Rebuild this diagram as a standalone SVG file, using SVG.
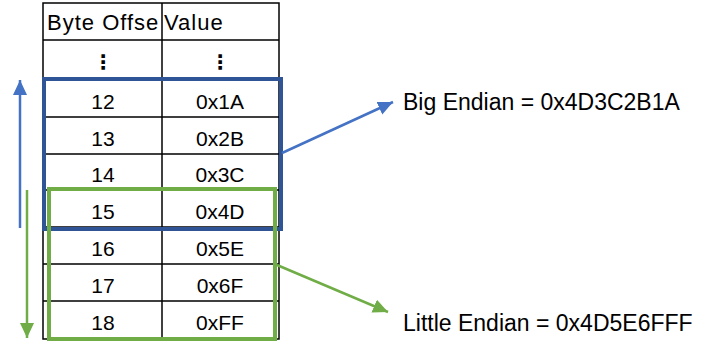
<svg xmlns="http://www.w3.org/2000/svg" width="703" height="344" viewBox="0 0 703 344">
<style>
.t{font-family:"Liberation Sans",Arial,sans-serif;font-size:21px;fill:#000}
.h{font-family:"Liberation Sans",Arial,sans-serif;font-size:22px;letter-spacing:1px;fill:#000}
.c{text-anchor:middle}
.lbl{font-family:"Liberation Sans",Arial,sans-serif;font-size:23px;fill:#000}
.dots{font-family:"DejaVu Sans",sans-serif;font-size:20px;font-weight:bold;text-anchor:middle;fill:#000}
.grid{stroke:#000;stroke-width:1.5;fill:none}
</style>
<defs>
<marker id="ab" markerUnits="userSpaceOnUse" markerWidth="16" markerHeight="14" refX="15" refY="7" orient="auto"><path d="M0,0 L15,7 L0,14 z" fill="#4472C4"/></marker>
<marker id="ag" markerUnits="userSpaceOnUse" markerWidth="16" markerHeight="14" refX="15" refY="7" orient="auto"><path d="M0,0 L15,7 L0,14 z" fill="#70AD47"/></marker>
</defs>
<rect width="703" height="344" fill="#fff"/>
<g id="table">
<rect class="grid" x="43" y="3" width="236" height="336"/>
<line class="grid" x1="162" y1="3" x2="162" y2="339"/>
<path class="grid" d="M43,40H279M43,80H279M43,117H279M43,154H279M43,190H279M43,227H279M43,264H279M43,301H279"/>
<text class="h" x="47" y="30">Byte Offse</text>
<text class="h" x="164" y="30">Value</text>
<text class="dots" x="103" y="69">⋮</text>
<text class="dots" x="220" y="69">⋮</text>
<text class="t c" x="103" y="109">12</text><text class="t c" x="220" y="109">0x1A</text>
<text class="t c" x="103" y="146">13</text><text class="t c" x="220" y="146">0x2B</text>
<text class="t c" x="103" y="182">14</text><text class="t c" x="220" y="182">0x3C</text>
<text class="t c" x="103" y="219">15</text><text class="t c" x="220" y="219">0x4D</text>
<text class="t c" x="103" y="256">16</text><text class="t c" x="220" y="256">0x5E</text>
<text class="t c" x="103" y="293">17</text><text class="t c" x="220" y="293">0x6F</text>
<text class="t c" x="103" y="330">18</text><text class="t c" x="220" y="330">0xFF</text>
</g>
<g id="big-group"><rect x="44" y="79" width="237" height="150" fill="none" stroke="#2F5597" stroke-width="4"/></g>
<g id="little-group"><rect x="49" y="189" width="226" height="150" fill="none" stroke="#70AD47" stroke-width="4"/></g>
<g id="big-label"><text class="lbl" x="403" y="110">Big Endian = 0x4D3C2B1A</text></g>
<g id="little-label"><text class="lbl" x="403" y="331">Little Endian = 0x4D5E6FFF</text></g>
<g id="connectors" fill="none" stroke-width="2.5">
<line x1="20" y1="228" x2="20" y2="80" stroke="#4472C4" marker-end="url(#ab)"/>
<line x1="27" y1="190" x2="27" y2="338" stroke="#70AD47" marker-end="url(#ag)"/>
<line x1="282" y1="153" x2="393" y2="102" stroke="#4472C4" marker-end="url(#ab)"/>
<line x1="277" y1="265" x2="388" y2="312" stroke="#70AD47" marker-end="url(#ag)"/>
</g>
</svg>
